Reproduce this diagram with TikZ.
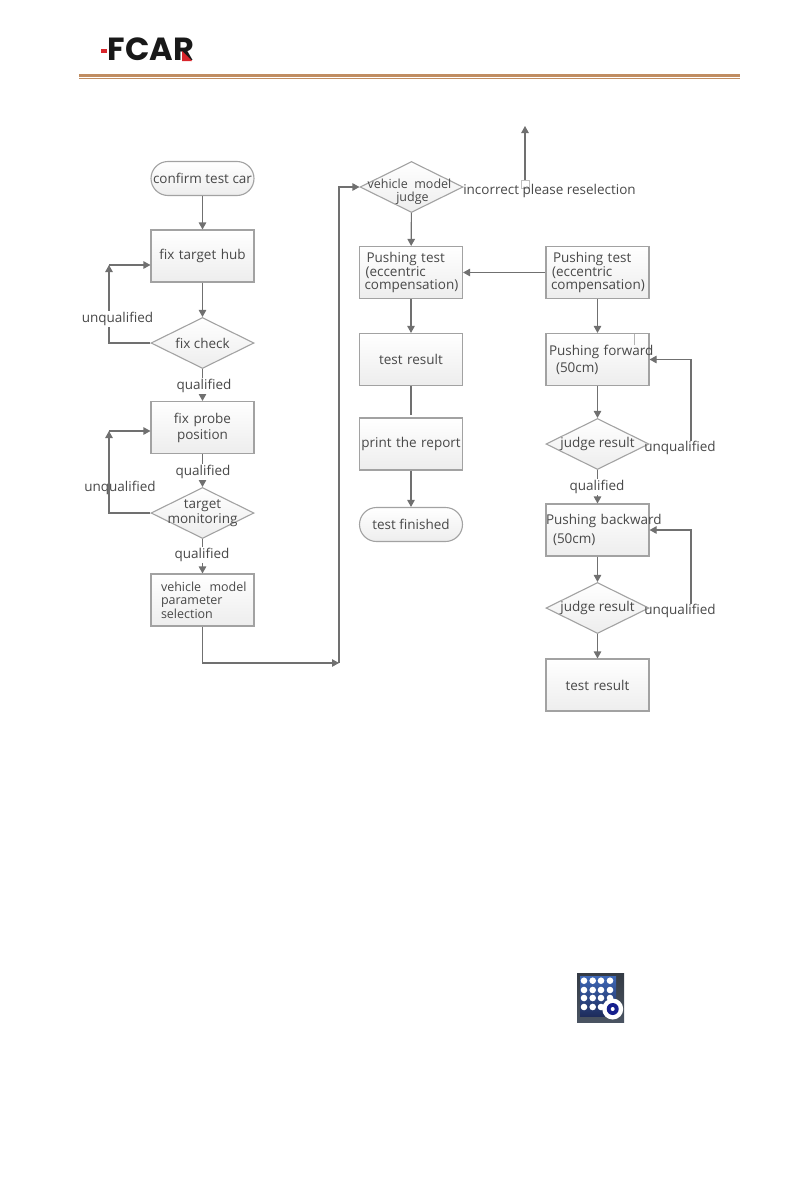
\documentclass[tikz,border=0pt]{standalone}
\usepackage{fontspec}
\setmainfont{Open Sans}
\newfontfamily\logofont{Poppins}
\usepackage{xcolor}
\usetikzlibrary{positioning,arrows.meta,shapes.geometric}
\definecolor{edgegray}{HTML}{A2A2A2}
\definecolor{linegray}{HTML}{707070}
\definecolor{txtgray}{HTML}{484848}
\definecolor{rulebrown}{HTML}{C08D62}
\definecolor{logored}{HTML}{D8262C}
\definecolor{iconframe}{HTML}{4A5462}
\definecolor{icontop}{HTML}{3E68B8}
\definecolor{iconlow}{HTML}{1E2C5C}
\tikzset{
  prc/.style={rectangle, draw=edgegray, line width=1.1pt, top color=white, bottom color=black!7, text=txtgray, font=\fontsize{13.5}{13.5}\selectfont, minimum width=103pt, minimum height=52pt, text width=103pt, inner xsep=0pt, inner ysep=0pt, align=center},
  prl/.style={prc, align=left},
  dec/.style={diamond, draw=edgegray, line width=1.1pt, top color=white, bottom color=black!7, minimum width=103pt, minimum height=51pt, inner sep=0pt},
  dtxt/.style={text=txtgray, font=\fontsize{13.5}{12}\selectfont, inner sep=0pt, align=center},
  ter/.style={rectangle, rounded corners=17pt, draw=edgegray, line width=1.1pt, top color=white, bottom color=black!7, text=txtgray, font=\fontsize{13.5}{13.5}\selectfont, minimum width=103pt, minimum height=34pt, inner sep=0pt},
  lbl/.style={text=txtgray, font=\fontsize{13.5}{13.5}\selectfont, inner sep=0pt},
  qlbl/.style={lbl, fill=white, inner ysep=1pt},
  fl/.style={draw=linegray, line width=1.1pt, -{Triangle[length=7pt,width=7.5pt]}},
  pl/.style={draw=linegray, line width=1.1pt}
}
\begin{document}
\begin{tikzpicture}[x=1pt, y=-1pt]
  \useasboundingbox (0,0) rectangle (805,1191);
  \fill[rulebrown] (79,74) rectangle (740,77);
  \fill[rulebrown] (79,78) rectangle (740,79);
  \fill[logored] (101,48.5) rectangle (107,52.5);
  \node[font=\logofont\bfseries\fontsize{32}{32}\selectfont, text=black!90, inner sep=0pt, anchor=center] (fcar) at (151,49.5) {FCAR};
  \fill[logored] (182,51) -- (192,61) -- (182,61) -- cycle;

  \node[ter] (start) at (202.5,178.5) {confirm test car};
  \node[prc] (hub) at (202.5,256) {fix target hub};
  \node[dec, label={[dtxt]center:fix check}] (chk) at (202.5,343) {};
  \node[prc] (probe) at (202.5,427.5) {fix probe\\[2.5pt]position};
  \node[dec, label={[dtxt]center:target\\[1pt]monitoring}] (mon) at (202.5,513) {};
  \node[prl, font=\fontsize{12.5}{13.5}\selectfont] (sel) at (202.5,600) {\hspace*{10pt}vehicle\ \ model\\\hspace*{10pt}parameter\\\hspace*{10pt}selection};

  \node[dec, label={[dtxt, font=\fontsize{12.5}{12.5}\selectfont, xshift=-2pt, yshift=-4.5pt]center:vehicle\ \ model\\\hspace*{6pt}judge}] (jdg) at (411.5,187) {};
  \node[prl] (pt1) at (411,272.5) {\hspace*{7pt}Pushing test\\\hspace*{6pt}(eccentric\\\hspace*{5pt}compensation)};
  \node[prc] (res1) at (411,359.5) {test result};
  \node[prc] (rep) at (411,444) {print the report};
  \node[ter] (fin) at (411,524.5) {test finished};

  \node[prl] (pt2) at (597.5,272.5) {\hspace*{7pt}Pushing test\\\hspace*{6pt}(eccentric\\\hspace*{5pt}compensation)};
  \node[prl, font=\fontsize{13.5}{17}\selectfont] (fwd) at (597.5,359.5) {\hspace*{3pt}\mbox{Pushing forward}\\\hspace*{10pt}(50cm)};
  \node[dec, label={[dtxt]center:judge result}] (jr1) at (597.5,444) {};
  \node[prl, font=\fontsize{13.5}{19}\selectfont] (bwd) at (597.5,530) {\mbox{Pushing backward}\\\hspace*{7pt}(50cm)};
  \node[dec, label={[dtxt]center:judge result}] (jr2) at (597.5,608) {};
  \node[prc] (res2) at (597.5,685) {test result};

  \node[lbl] (un3) at (680,448) {unqualified};
  \node[lbl] (un4) at (680,611) {unqualified};
  \node[rectangle, draw=black!25, fill=white, line width=0.5pt, minimum size=8pt, inner sep=0pt] (mark) at (525,184) {};
  \node[lbl] (inc) at (549.5,191) {incorrect please reselection};

  \coordinate (c1) at (109,265);
  \coordinate (c2) at (109,431);
  \coordinate (c3) at (691,359.5);
  \coordinate (c4) at (691,530);
  \coordinate (c5) at (339,663);
  \coordinate (c6) at (525,126);

  \draw[fl] (start)--(hub);
  \draw[fl] (hub)--(chk);
  \draw[fl] (chk)--(probe);
  \draw[fl] (probe)--(mon);
  \draw[fl] (mon)--(sel);
  \draw[fl] (chk.west)-|(c1);
  \draw[fl] (c1)--(c1 -| hub.west);
  \draw[fl] (mon.west)-|(c2);
  \draw[fl] (c2)--(c2 -| probe.west);
  \draw[fl] (sel.south)|-(c5);
  \draw[fl] (c5)|-(jdg.west);
  \draw[fl] (jdg)--(pt1);
  \draw[fl] (pt2)--(pt1);
  \draw[fl] (pt1)--(res1);
  \draw[pl] (res1)--(411,415);
  \draw[fl] (rep)--(fin);
  \draw[fl] (pt2)--(fwd);
  \draw[fl] (fwd)--(jr1);
  \draw[fl] (jr1)--(bwd);
  \draw[fl] (bwd)--(jr2);
  \draw[fl] (jr2)--(res2);
  \draw[fl] (un3.north -| c3)--(c3)--(fwd.east);
  \draw[fl] (un4.north -| c4)--(c4)--(bwd.east);
  \draw[fl] (mark.north)--(c6);
  \draw[draw=black!30, line width=0.5pt] (634,334)--(634,345);

  \node[qlbl] (un1) at (117.5,319) {unqualified};
  \node[lbl] (un2) at (120,488) {unqualified};
  \node[qlbl] (q1) at (204,386) {qualified};
  \node[qlbl] (q2) at (203,472) {qualified};
  \node[qlbl] (q3) at (202,555) {qualified};
  \node[qlbl] (q4) at (597,487) {qualified};

  \shade[top color=iconframe!70!black, bottom color=iconframe] (577,973) rectangle (624,1022);
  \shade[top color=icontop, bottom color=iconlow] (580,976) rectangle (616,1016);
  \foreach \px in {584,592.7,601,610}
    \foreach \py in {980.7,990,998,1007}
      \fill[white] (\px,\py) circle (3.3pt);
  \fill[white] (612.7,1009) circle (10.5pt);
  \fill[iconlow!70!blue] (612.7,1009) circle (6pt);
  \fill[white] (612.7,1009) circle (2pt);
\end{tikzpicture}
\end{document}
